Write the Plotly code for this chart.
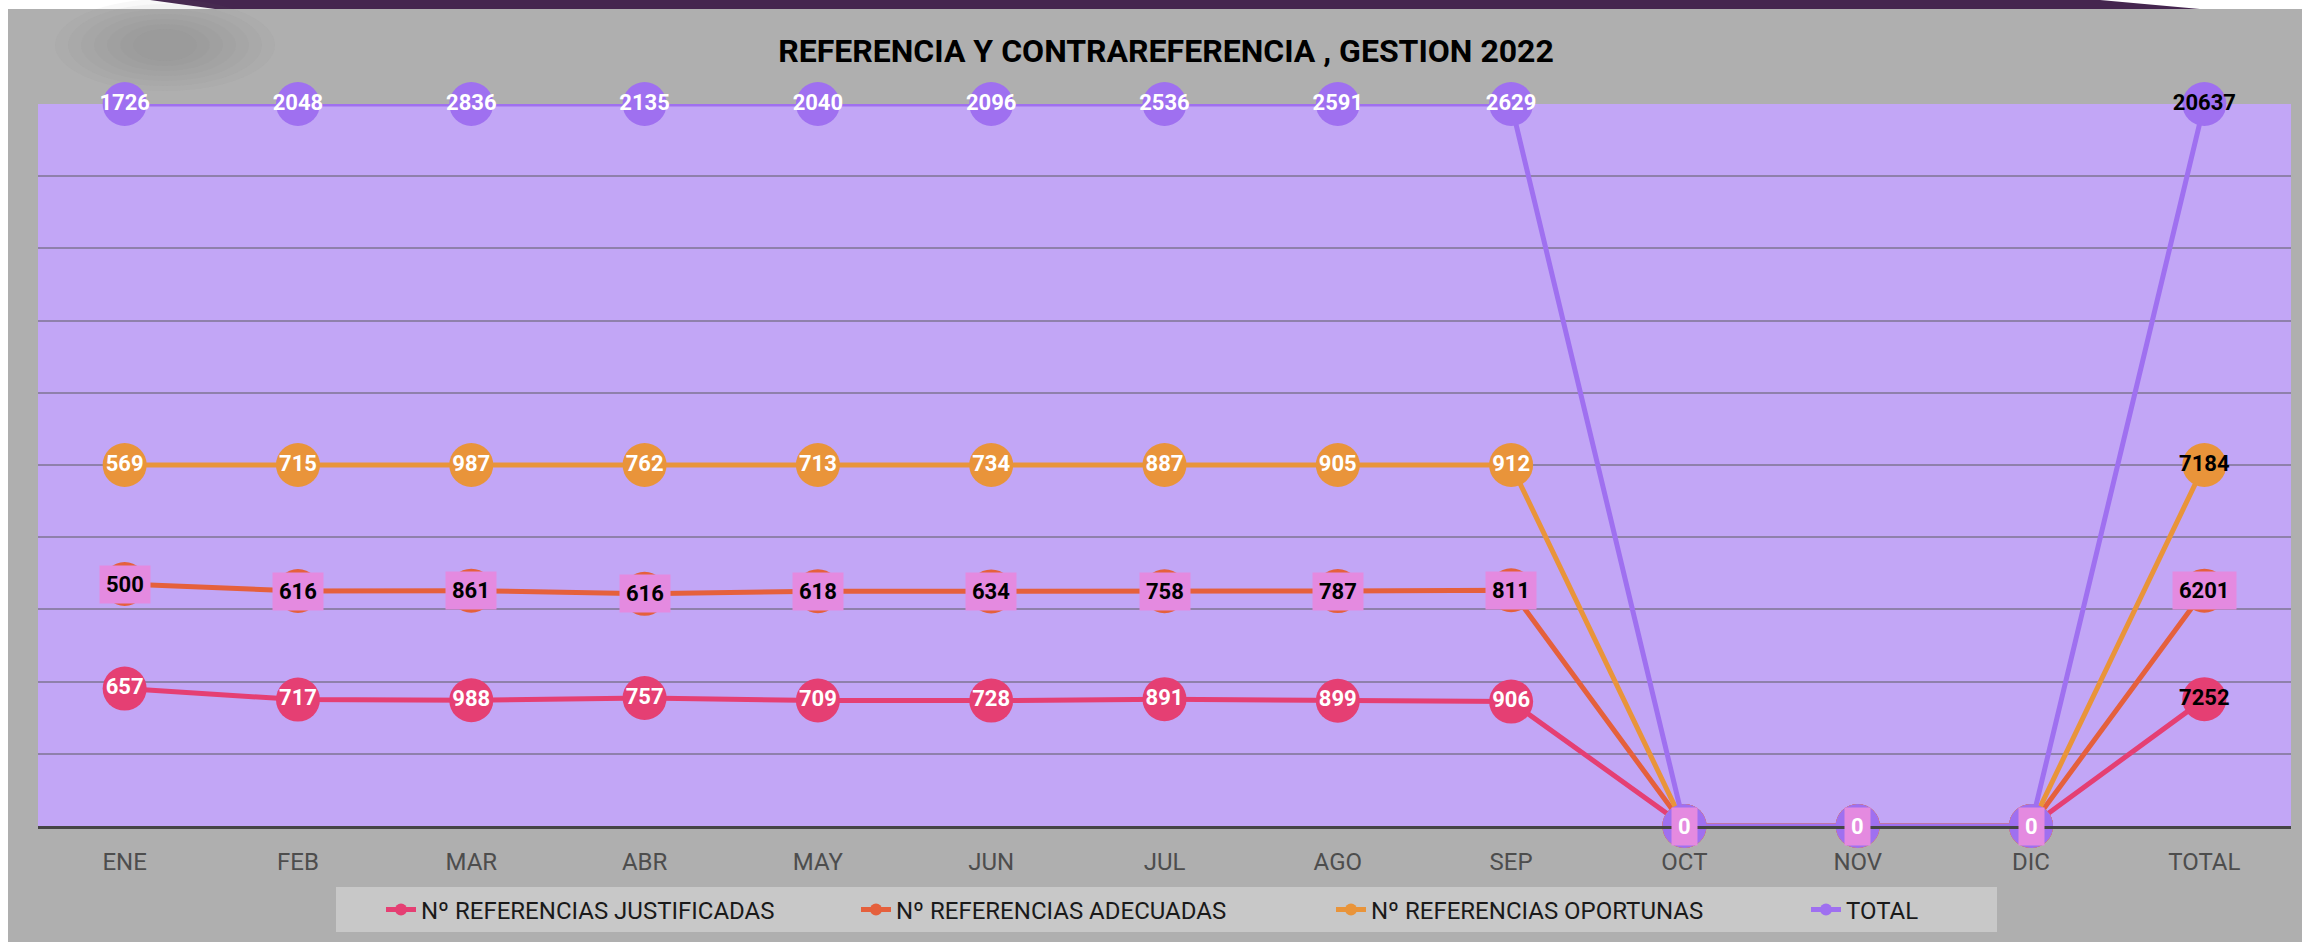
import plotly.graph_objects as go

# ---------------- data ----------------
months = ["ENE", "FEB", "MAR", "ABR", "MAY", "JUN", "JUL", "AGO", "SEP", "OCT", "NOV", "DIC", "TOTAL"]
justificadas = [657, 717, 988, 757, 709, 728, 891, 899, 906, 0, 0, 0, 7252]
adecuadas = [500, 616, 861, 616, 618, 634, 758, 787, 811, 0, 0, 0, 6201]
oportunas = [569, 715, 987, 762, 713, 734, 887, 905, 912, 0, 0, 0, 7184]
total = [1726, 2048, 2836, 2135, 2040, 2096, 2536, 2591, 2629, 0, 0, 0, 20637]

names = ["Nº REFERENCIAS JUSTIFICADAS", "Nº REFERENCIAS ADECUADAS",
         "Nº REFERENCIAS OPORTUNAS", "TOTAL"]
colors = ["#e53f73", "#e5603c", "#e9943a", "#9f70f0"]
title_text = "REFERENCIA Y CONTRAREFERENCIA , GESTION 2022"

# ---------------- layout geometry (px) ----------------
W, H = 2302, 942
L, R, T, B = 38, 2291, 104, 826
PW, PH = R - L, B - T


def px_x(x):
    return (x - L) / PW


def px_y(y):
    return 1 - (y - T) / PH


LABEL_FONT = "Roboto"
series = [justificadas, adecuadas, oportunas, total]
col_sum = [sum(v) for v in zip(*series)]

fig = go.Figure()
cum = [0] * len(months)
annotations = []
for idx, (name, vals, color) in enumerate(zip(names, series, colors)):
    cum = [c + v for c, v in zip(cum, vals)]
    ypct = [c / s * 100 if s else 0 for c, s in zip(cum, col_sum)]
    is_red = idx == 1
    texts = []
    tcolors = []
    for m, v in zip(months, vals):
        if is_red or v == 0:
            texts.append("")
        else:
            texts.append(str(v))
        tcolors.append("black" if m == "TOTAL" else "white")
    fig.add_trace(go.Scatter(
        x=months, y=ypct, name=name, mode="lines+markers+text",
        line=dict(color=color, width=5),
        marker=dict(color=color, size=44, line=dict(width=0)),
        text=texts, textposition="middle center",
        textfont=dict(family=LABEL_FONT, size=22, color=tcolors, weight="bold"),
        cliponaxis=False, hoverinfo="skip",
    ))
    if is_red:
        for m, v, yy in zip(months, vals, ypct):
            annotations.append(dict(
                x=m, y=yy, xref="x", yref="y", text=str(v), showarrow=False,
                font=dict(family=LABEL_FONT, size=22, color="white" if v == 0 else "black",
                          weight="bold"),
                bgcolor="#e48ae0", borderpad=6, xanchor="center", yanchor="middle",
            ))

shapes = [
    # white page edges / top decorative band
    dict(type="rect", xref="paper", yref="paper", x0=px_x(0), x1=px_x(8), y0=px_y(H), y1=px_y(0),
         fillcolor="white", line=dict(width=0), layer="below"),
    dict(type="rect", xref="paper", yref="paper", x0=px_x(0), x1=px_x(W), y0=px_y(9), y1=px_y(0),
         fillcolor="white", line=dict(width=0), layer="below"),
    dict(type="path", xref="paper", yref="paper",
         path=f"M {px_x(150)},{px_y(0)} L {px_x(2100)},{px_y(0)} L {px_x(2200)},{px_y(9)} L {px_x(215)},{px_y(9)} Z",
         fillcolor="#45264f", line=dict(width=0), layer="below"),
    # legend box
    dict(type="rect", xref="paper", yref="paper", x0=px_x(336), x1=px_x(1997), y0=px_y(932), y1=px_y(887),
         fillcolor="#c8c8c8", line=dict(width=0), layer="below"),
]
# soft shadow blob top-left (stack of faint ellipses)
cx, cy = 165, 45
for k in range(7):
    rx, ry = 110 - k * 13, 46 - k * 5
    shapes.append(dict(type="circle", xref="paper", yref="paper",
                       x0=px_x(cx - rx), x1=px_x(cx + rx), y0=px_y(cy + ry), y1=px_y(cy - ry),
                       fillcolor="rgba(120,120,120,0.05)", line=dict(width=0), layer="below"))

fig.update_layout(
    width=W, height=H,
    margin=dict(l=L, r=W - R, t=T, b=H - B, autoexpand=False),
    paper_bgcolor="#afafaf", plot_bgcolor="#c2a6f6",
    title=dict(text=title_text, x=1166 / W, xanchor="center",
               y=1 - 51 / H, yanchor="middle", yref="container",
               font=dict(family=LABEL_FONT, size=32, color="black", weight="bold")),
    xaxis=dict(type="category", range=[-0.5, 12.5], showgrid=False,
               showline=True, linecolor="#454545", linewidth=3, ticks="",
               tickfont=dict(family=LABEL_FONT, size=24, color="#4d4d4d"), ticklabelstandoff=12,
               fixedrange=True),
    yaxis=dict(range=[0, 100], dtick=10, showticklabels=False, showgrid=True,
               gridcolor="#8f80ab", gridwidth=1.5, zeroline=False, showline=False, fixedrange=True),
    showlegend=True,
    legend=dict(orientation="h", x=px_x(381), xanchor="left", y=px_y(910), yanchor="middle",
                bgcolor="rgba(0,0,0,0)", font=dict(family=LABEL_FONT, size=24, color="#1a1a1a"),
                itemsizing="constant", entrywidth=430, entrywidthmode="pixels"),
    annotations=annotations,
    shapes=shapes,
)

fig.write_html("out.html", config={"displayModeBar": False},
               post_script="document.body.style.margin='0px';document.body.style.overflow='hidden';")
